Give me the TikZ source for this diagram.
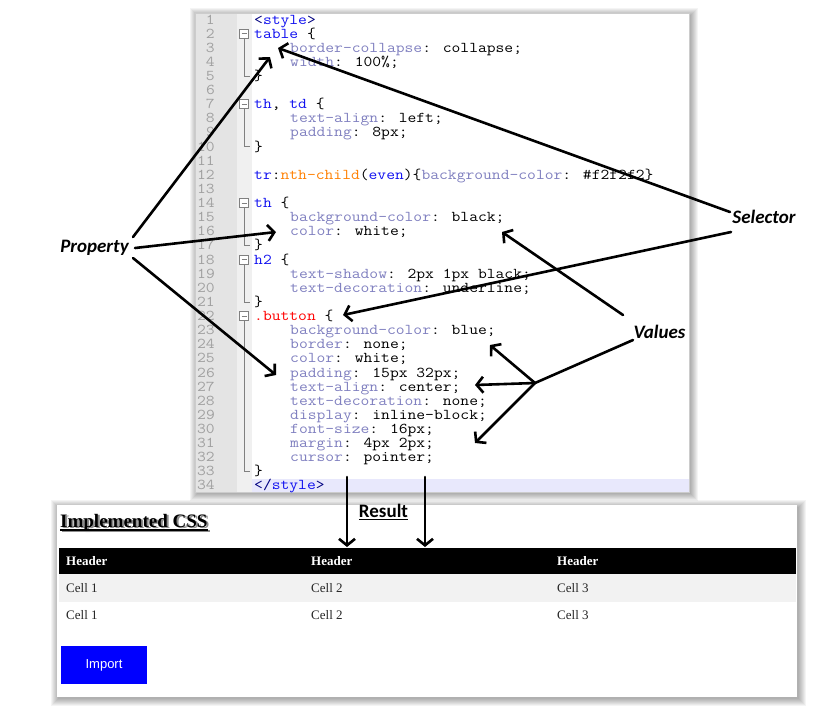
\documentclass[tikz,border=0pt]{standalone}
\usepackage{fontspec}
\newfontfamily\codefont{Latin Modern Mono}[FakeStretch=1.14]
\newfontfamily\htmlfont{Liberation Serif}
\newfontfamily\lblfont{Carlito}
\newfontfamily\btnfont{Liberation Sans}
\usetikzlibrary{arrows.meta}
\definecolor{cprop}{HTML}{8080C0}
\definecolor{csel}{HTML}{1010F0}
\definecolor{ccls}{HTML}{FF0000}
\definecolor{cpse}{HTML}{FF8000}
\definecolor{ctag}{HTML}{000080}
\definecolor{lnum}{HTML}{A0A0A0}
\definecolor{gutterbg}{HTML}{E4E4E4}
\definecolor{foldbg}{HTML}{F0F0F0}
\definecolor{curline}{HTML}{E8E8FC}
\definecolor{rowgrey}{HTML}{F2F2F2}
\definecolor{btnblue}{HTML}{0000FF}
\newcommand\kprop[1]{\textcolor{cprop}{#1}}
\newcommand\ksel[1]{\textcolor{csel}{#1}}
\newcommand\kcls[1]{\textcolor{ccls}{#1}}
\newcommand\kpse[1]{\textcolor{cpse}{#1}}
\newcommand\ktag[1]{\textcolor{ctag}{#1}}
\begin{document}
\begin{tikzpicture}[x=1pt,y=-1pt,
  code/.style={anchor=base west, inner sep=0pt, font=\codefont\fontsize{15}{15}\selectfont},
  lno/.style={anchor=base east, inner sep=0pt, text=lnum, font=\codefont\fontsize{15}{15}\selectfont},
  lbl/.style={inner sep=1pt, font=\lblfont\bfseries\itshape\fontsize{19}{19}\selectfont},
  callout/.style={line width=2.6pt, line cap=round, -{Straight Barb[length=6.5pt,width=16pt,line width=2.6pt]}},
  plainline/.style={line width=2.6pt, line cap=round},
  foldc/.style={draw=black!50, line width=0.8pt},
  cellt/.style={anchor=west, inner sep=0pt, font=\htmlfont\fontsize{13}{13}\selectfont, text=black!85},
  headt/.style={anchor=west, inner sep=0pt, font=\htmlfont\bfseries\fontsize{13}{13}\selectfont, text=white}
]
\useasboundingbox (0,0) rectangle (816,716);
\fill[white] (0,0) rectangle (816,716);

% ---------- shadows ----------
\foreach \i in {1,...,8}{
  \fill[black, opacity=0.045] (195-\i+3, 13-\i+3) rectangle (689+\i+1, 492+\i+1);
  \fill[black, opacity=0.045] (57-\i+2, 505-\i+3) rectangle (797+\i+1, 697+\i+1);
}

% ---------- code panel ----------
\fill[white] (195,13) rectangle (689,492);
\fill[gutterbg] (195,13) rectangle (237,492);
\fill[foldbg] (237,13) rectangle (252,492);
\fill[curline] (252,479) rectangle (689,492);
\draw[black!20, line width=0.5pt] (195,13) rectangle (689,492);

\foreach \k in {1,...,34}{
  \pgfmathsetmacro\ly{24+14.12*(\k-1)}
  \node[lno] (ln\k) at (215,\ly) {\k};
}

\foreach \a/\b in {2/5, 7/10, 14/17, 18/21, 22/33}{
  \pgfmathsetmacro\ya{24+14.12*(\a-1)-4.5}
  \pgfmathsetmacro\yb{24+14.12*(\b-1)-4.5}
  \draw[foldc] (244,\ya+4.5) -- (244,\yb) -- (250,\yb);
  \draw[foldc, fill=white] (239.5,\ya-4.5) rectangle (248.5,\ya+4.5);
  \draw[foldc] (241.5,\ya) -- (246.5,\ya);
}

\node[code] (c1)  at (254,24.00)  {\ktag{<}\ksel{style}\ktag{>}};
\node[code] (c2)  at (254,38.12)  {\ksel{table} \{};
\node[code] (c3)  at (290,52.24)  {\kprop{border-collapse}: collapse;};
\node[code] (c4)  at (290,66.36)  {\kprop{width}: 100\%;};
\node[code] (c5)  at (254,80.48)  {\}};
\node[code] (c7)  at (254,108.72) {\ksel{th}, \ksel{td} \{};
\node[code] (c8)  at (290,122.84) {\kprop{text-align}: left;};
\node[code] (c9)  at (290,136.96) {\kprop{padding}: 8px;};
\node[code] (c10) at (254,151.08) {\}};
\node[code] (c12) at (254,179.32) {\ksel{tr}:\kpse{nth-child}(\ksel{even})\{\kprop{background-color}: \#f2f2f2\}};
\node[code] (c14) at (254,207.56) {\ksel{th} \{};
\node[code] (c15) at (290,221.68) {\kprop{background-color}: black;};
\node[code] (c16) at (290,235.80) {\kprop{color}: white;};
\node[code] (c17) at (254,249.92) {\}};
\node[code] (c18) at (254,264.04) {\ksel{h2} \{};
\node[code] (c19) at (290,278.16) {\kprop{text-shadow}: 2px 1px black;};
\node[code] (c20) at (290,292.28) {\kprop{text-decoration}: underline;};
\node[code] (c21) at (254,306.40) {\}};
\node[code] (c22) at (254,320.52) {\kcls{.button} \{};
\node[code] (c23) at (290,334.64) {\kprop{background-color}: blue;};
\node[code] (c24) at (290,348.76) {\kprop{border}: none;};
\node[code] (c25) at (290,362.88) {\kprop{color}: white;};
\node[code] (c26) at (290,377.00) {\kprop{padding}: 15px 32px;};
\node[code] (c27) at (290,391.12) {\kprop{text-align}: center;};
\node[code] (c28) at (290,405.24) {\kprop{text-decoration}: none;};
\node[code] (c29) at (290,419.36) {\kprop{display}: inline-block;};
\node[code] (c30) at (290,433.48) {\kprop{font-size}: 16px;};
\node[code] (c31) at (290,447.60) {\kprop{margin}: 4px 2px;};
\node[code] (c32) at (290,461.72) {\kprop{cursor}: pointer;};
\node[code] (c33) at (254,475.84) {\}};
\node[code] (c34) at (254,489.96) {\ktag{</}\ksel{style}\ktag{>}};

% ---------- result panel ----------
\fill[white] (57,505) rectangle (797,697);
\node[anchor=base west, inner sep=0pt, font=\htmlfont\bfseries\fontsize{19}{19}\selectfont] (h2) at (60,527)
  {\rlap{\hspace{2pt}\raisebox{-1pt}{\textcolor{black!45}{Implemented CSS}}}Implemented CSS};
\draw[black!45, line width=1.4pt] ([xshift=2pt,yshift=-4pt]h2.base west) -- ([xshift=2pt,yshift=-4pt]h2.base east);
\draw[black, line width=1.4pt] ([yshift=-3pt]h2.base west) -- ([yshift=-3pt]h2.base east);

\fill[black] (59,548) rectangle (796,574);
\fill[rowgrey] (59,574) rectangle (796,602);
\node[headt] (th1) at (66,561) {Header};
\node[headt] (th2) at (311,561) {Header};
\node[headt] (th3) at (557,561) {Header};
\node[cellt] (r1c1) at (66,588) {Cell 1};
\node[cellt] (r1c2) at (311,588) {Cell 2};
\node[cellt] (r1c3) at (557,588) {Cell 3};
\node[cellt] (r2c1) at (66,615) {Cell 1};
\node[cellt] (r2c2) at (311,615) {Cell 2};
\node[cellt] (r2c3) at (557,615) {Cell 3};

\node[fill=btnblue, text=white, minimum width=86pt, minimum height=38pt, inner sep=0pt,
      font=\btnfont\fontsize{13}{13}\selectfont] (btn) at (104,665) {Import};

% ---------- labels ----------
\node[lbl] (prop) at (94.5,248) {Property};
\node[lbl] (sel)  at (764,217) {Selector};
\node[lbl] (vals) at (659.5,332) {Values};
\node[inner sep=1pt, font=\lblfont\bfseries\fontsize{19}{19}\selectfont] (res) at (383.5,512) {\underline{Result}};

% ---------- connector end points ----------
\coordinate (pA) at (133,237);
\coordinate (pB) at (135,248);
\coordinate (pC) at (133,258);
\coordinate (tA) at (270,57);
\coordinate (tB) at (276,232);
\coordinate (tC) at (276,375);
\coordinate (sA) at (730,212);
\coordinate (sB) at (731,232);
\coordinate (uA) at (278,48);
\coordinate (uB) at (343,315);
\coordinate (vA) at (623,315);
\coordinate (vB) at (633,340);
\coordinate (vj) at (535,383);
\coordinate (wA) at (502,232);
\coordinate (wB) at (490,345);
\coordinate (wC) at (475,385);
\coordinate (wD) at (475,443);
\coordinate (rA) at (347,477);
\coordinate (rB) at (425,477);
\coordinate (rAe) at (347,547);
\coordinate (rBe) at (425,547);

% ---------- connectors ----------
\draw[callout] (pA) -- (tA);
\draw[callout] (pB) -- (tB);
\draw[callout] (pC) -- (tC);
\draw[callout] (sA) -- (uA);
\draw[callout] (sB) -- (uB);
\draw[callout] (vA) -- (wA);
\draw[plainline] (vB) -- (vj);
\draw[callout] (vj) -- (wB);
\draw[callout] (vj) -- (wC);
\draw[callout] (vj) -- (wD);
\draw[callout] (rA) -- (rAe);
\draw[callout] (rB) -- (rBe);
\end{tikzpicture}
\end{document}
